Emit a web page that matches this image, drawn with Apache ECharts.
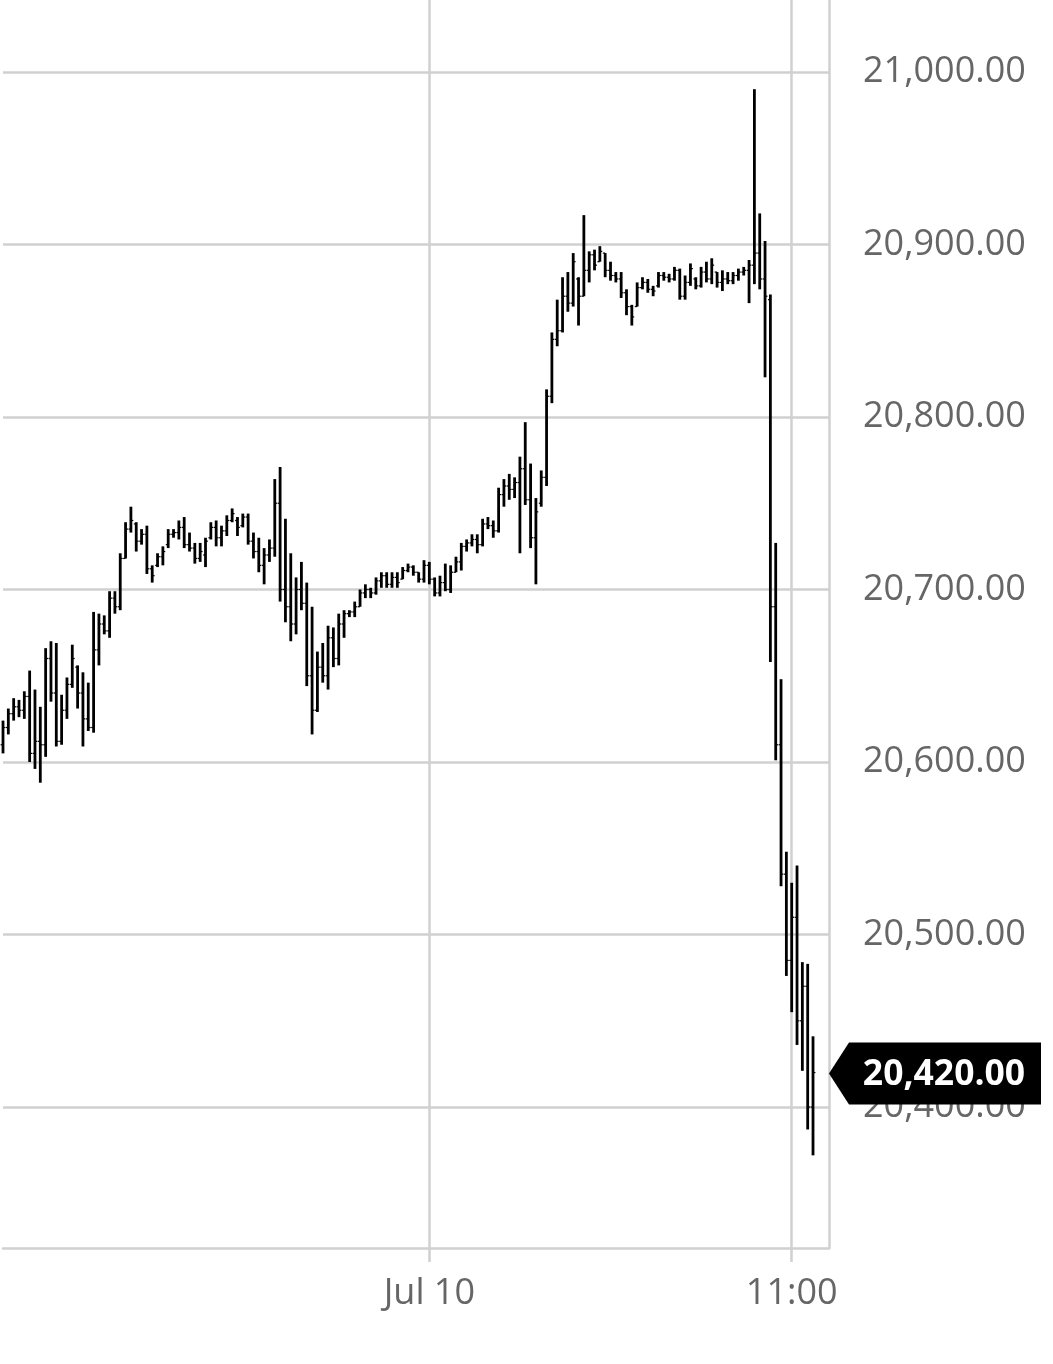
<!DOCTYPE html>
<html>
<head>
<meta charset="utf-8">
<script src="https://cdn.jsdelivr.net/npm/echarts@6/dist/echarts.min.js"></script>
<style>
html,body{margin:0;padding:0;background:#fff;}
#chart{width:1053px;height:1364px;}
</style>
</head>
<body>
<div id="chart"></div>
<script>
const highs = [20624,20631,20637,20636,20641,20653,20642,20632,20666,20670,
 20669,20639,20649,20668,20656,20652,20646,20687,20686,20685,
 20699,20699,20721,20739,20748,20739,20735,20737,20714,20721,
 20725,20735,20735,20740,20742,20733,20727,20727,20730,20739,
 20740,20737,20743,20747,20742,20744,20744,20733,20730,20724,
 20729,20764,20771,20741,20721,20707,20716,20704,20690,20664,
 20669,20679,20678,20686,20688,20688,20693,20700,20703,20701,
 20707,20710,20710,20710,20710,20713,20715,20714,20710,20717,
 20716,20707,20708,20715,20714,20719,20727,20729,20732,20732,
 20741,20742,20740,20759,20764,20767,20765,20777,20797,20773,
 20753,20769,20816,20849,20868,20881,20884,20895,20881,20917,
 20896,20897,20899,20895,20890,20884,20884,20874,20865,20878,
 20881,20880,20876,20884,20884,20883,20887,20886,20882,20889,
 20881,20887,20890,20892,20884,20885,20884,20884,20886,20887,
 20891,20990,20918,20902,20871,20727,20648,20548,20530,20540,
 20484,20483,20441];
const lows = [20605,20616,20624,20626,20625,20600,20596,20588,20603,20635,
 20609,20610,20625,20643,20631,20609,20618,20617,20656,20674,
 20672,20686,20688,20718,20733,20722,20726,20709,20704,20713,
 20714,20724,20730,20729,20724,20722,20715,20716,20713,20729,
 20725,20725,20731,20739,20731,20736,20726,20718,20710,20703,
 20716,20719,20693,20681,20670,20674,20688,20644,20616,20629,
 20646,20642,20655,20656,20672,20684,20684,20690,20695,20695,
 20697,20701,20701,20701,20701,20706,20710,20708,20704,20704,
 20703,20696,20696,20699,20698,20710,20711,20722,20725,20721,
 20725,20735,20730,20733,20748,20752,20753,20721,20749,20724,
 20703,20748,20760,20808,20841,20849,20861,20864,20853,20870,
 20878,20885,20890,20881,20879,20878,20869,20859,20853,20864,
 20874,20872,20870,20875,20879,20878,20879,20868,20868,20876,
 20874,20875,20878,20877,20875,20873,20877,20877,20879,20882,
 20866,20877,20874,20823,20658,20601,20528,20476,20455,20436,
 20421,20387,20372];
const opens = [20610,20620,20628,20632,20630,20638,20605,20612,20610,20660,
 20640,20612,20630,20645,20655,20640,20625,20620,20665,20680,
 20676,20695,20690,20718,20735,20738,20728,20732,20712,20714,
 20719,20726,20732,20733,20736,20726,20724,20718,20720,20730,
 20736,20730,20734,20740,20740,20737,20742,20728,20722,20714,
 20720,20724,20750,20700,20690,20680,20700,20692,20650,20630,
 20655,20650,20672,20660,20680,20686,20687,20690,20698,20700,
 20698,20705,20708,20703,20707,20706,20711,20713,20710,20706,
 20714,20706,20698,20704,20700,20710,20716,20725,20727,20729,
 20726,20738,20737,20734,20755,20760,20758,20762,20770,20752,
 20730,20750,20765,20812,20845,20850,20870,20866,20880,20870,
 20885,20894,20890,20895,20885,20882,20880,20872,20864,20864,
 20875,20878,20874,20876,20882,20881,20880,20885,20870,20878,
 20880,20876,20884,20880,20884,20878,20880,20879,20882,20884,
 20885,20888,20895,20880,20868,20690,20610,20535,20485,20510,
 20450,20470,20400];
const closes = [20620,20628,20632,20630,20638,20605,20612,20610,20660,20640,
 20612,20630,20645,20660,20640,20625,20620,20665,20680,20676,
 20695,20690,20718,20735,20740,20728,20732,20712,20708,20719,
 20722,20732,20733,20736,20726,20724,20718,20722,20728,20736,
 20730,20734,20740,20744,20736,20742,20728,20722,20714,20720,
 20724,20750,20700,20690,20680,20700,20692,20650,20630,20655,
 20650,20672,20660,20680,20686,20687,20690,20698,20700,20698,
 20705,20708,20703,20707,20704,20711,20713,20710,20706,20714,
 20706,20698,20704,20700,20710,20716,20725,20727,20729,20726,
 20738,20737,20734,20755,20760,20758,20762,20770,20752,20730,
 20745,20765,20812,20845,20850,20870,20866,20890,20870,20885,
 20894,20888,20896,20885,20882,20880,20872,20864,20858,20875,
 20878,20874,20873,20882,20881,20880,20885,20870,20878,20886,
 20876,20884,20880,20888,20878,20880,20879,20882,20884,20885,
 20888,20895,20880,20870,20690,20610,20535,20485,20510,20450,
 20470,20400,20420];
const xTickIndex = [80, 148];
const xTickLabels = ['Jul 10', '11:00'];
const slotCount = 156;
const lastPrice = 20420;

const categories = [];
for (let i = 0; i < slotCount; i++) categories.push(String(i));
const ohlc = highs.map((h, i) => [i, opens[i], closes[i], lows[i], h]);
const isTick = (i) => xTickIndex.indexOf(i) >= 0;
const fmt = (v) => Number(v).toLocaleString('en-US', {minimumFractionDigits: 2, maximumFractionDigits: 2});
const FONT = '"Open Sans", "Noto Sans", sans-serif';
const GRID = '#d0d0d0';

const chart = echarts.init(document.getElementById('chart'), null, {renderer: 'canvas'});
chart.setOption({
  animation: false,
  backgroundColor: '#ffffff',
  grid: {left: 3, right: 224, top: 0, bottom: 116, containLabel: false},
  xAxis: {
    type: 'category',
    data: categories,
    boundaryGap: false,
    axisLine: {show: true, lineStyle: {color: GRID, width: 2.5}},
    axisTick: {show: true, interval: (i) => isTick(i), length: 14, lineStyle: {color: GRID, width: 2.5}},
    axisLabel: {
      show: true, interval: (i) => isTick(i), margin: 28,
      color: '#666', fontSize: 36, fontFamily: FONT,
      formatter: (v, i) => { const k = xTickIndex.indexOf(Number(v)); return k >= 0 ? xTickLabels[k] : ''; }
    },
    splitLine: {show: true, interval: (i) => isTick(i), lineStyle: {color: GRID, width: 2.5}}
  },
  yAxis: {
    type: 'value',
    position: 'right',
    min: 20318.3,
    max: 21041.7,
    splitNumber: 7,
    axisLine: {show: true, lineStyle: {color: GRID, width: 2.5}},
    axisTick: {show: false},
    axisLabel: {
      show: true, margin: 34, color: '#666', fontSize: 36, fontFamily: FONT,
      showMinLabel: false, showMaxLabel: false,
      formatter: (v) => fmt(v)
    },
    splitLine: {show: true, showMaxLine: false, showMinLine: false, lineStyle: {color: GRID, width: 2.5}}
  },
  series: [
    {
      type: 'custom',
      clip: false,
      data: ohlc,
      encode: {x: 0, y: [1, 2, 3, 4]},
      renderItem: function (params, api) {
        const x = api.value(0);
        const o = api.coord([x, api.value(1)]);
        const c = api.coord([x, api.value(2)]);
        const l = api.coord([x, api.value(3)]);
        const h = api.coord([x, api.value(4)]);
        const st = {stroke: '#000', lineWidth: 2.8};
        const tk = 2.4;
        return {
          type: 'group',
          children: [
            {type: 'line', shape: {x1: h[0], y1: h[1], x2: l[0], y2: l[1]}, style: st},
            {type: 'line', shape: {x1: o[0] - tk, y1: o[1], x2: o[0], y2: o[1]}, style: {stroke: '#000', lineWidth: 1.2}},
            {type: 'line', shape: {x1: c[0], y1: c[1], x2: c[0] + tk, y2: c[1]}, style: {stroke: '#000', lineWidth: 1.2}}
          ]
        };
      }
    },
    {
      type: 'scatter',
      clip: false,
      z: 10,
      data: [[slotCount - 1, lastPrice]],
      symbol: 'path://M0,31 L20,0 L212,0 L212,62 L20,62 Z',
      symbolSize: [212, 62],
      symbolOffset: [106, 1],
      itemStyle: {color: '#000', opacity: 1},
      label: {
        show: true, position: 'inside', offset: [9, 1],
        color: '#fff', fontSize: 35.5, fontWeight: 'bold', fontFamily: FONT,
        formatter: (p) => fmt(p.value[1])
      },
      emphasis: {disabled: true},
      silent: true
    }
  ]
});
</script>
</body>
</html>
